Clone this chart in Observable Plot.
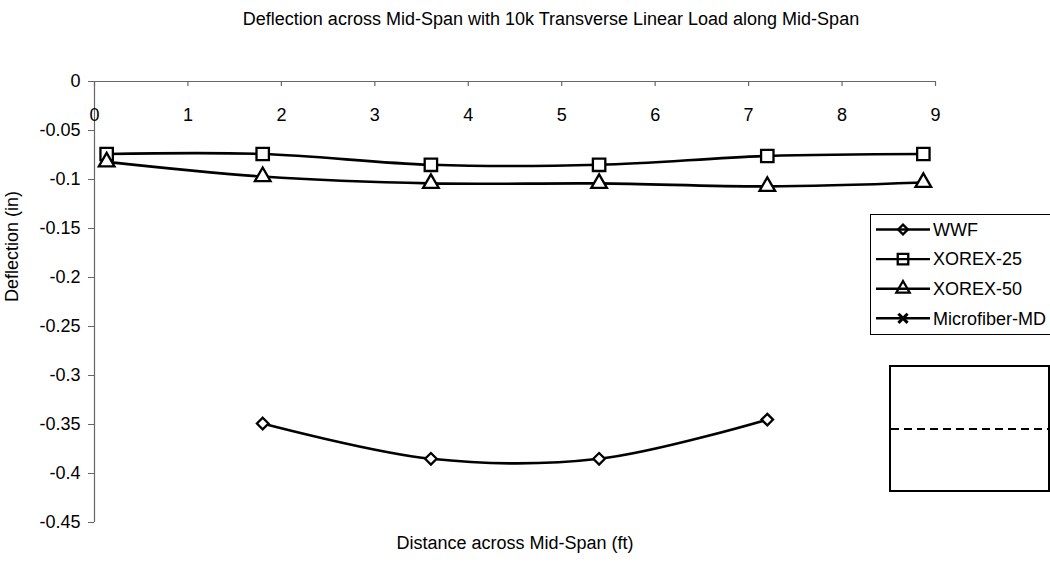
<!DOCTYPE html>
<html>
<head>
<meta charset="utf-8">
<script src="https://cdn.jsdelivr.net/npm/d3@7"></script>
<script src="https://cdn.jsdelivr.net/npm/@observablehq/plot@0.6"></script>
<style>
  body { margin: 0; background: #fff; font-family: "Liberation Sans", Arial, sans-serif; }
  #wrap { position: relative; width: 1050px; height: 570px; overflow: hidden; background: #fff; }
  #title { position: absolute; left: 0; top: 0; width: 1102px; height: 40px; line-height: 38px;
           text-align: center; font-size: 18px; color: #000; }
  #chart { position: absolute; left: 0; top: 40px; }
  #overlay { position: absolute; left: 0; top: 0; pointer-events: none; }
</style>
</head>
<body>
<div id="wrap">
  <div id="title"></div>
  <div id="chart"></div>
  <svg id="overlay" width="1050" height="570"></svg>
</div>
<script>
// ---- data ----
const titleText = "Deflection across Mid-Span with 10k Transverse Linear Load along Mid-Span";
const xLabel = "Distance across Mid-Span (ft)";
const yLabel = "Deflection (in)";
const seriesNames = ["WWF", "XOREX-25", "XOREX-50", "Microfiber-MD"];
const seriesSymbols = ["diamond2", "square", "triangle", "times"];

const positions = [0.13, 1.8, 3.6, 5.4, 7.2, 8.87];
const wwfX = [1.8, 3.6, 5.4, 7.2];
const wwfY = [-0.349, -0.385, -0.385, -0.345];
const xorex25Y = [-0.074, -0.074, -0.085, -0.085, -0.076, -0.074];
const xorex50Y = [-0.082, -0.097, -0.104, -0.104, -0.107, -0.103];
const microfiberX = [];
const microfiberY = [];

const xTicks = [0, 1, 2, 3, 4, 5, 6, 7, 8, 9];
const yTicks = [0, -0.05, -0.1, -0.15, -0.2, -0.25, -0.3, -0.35, -0.4, -0.45];

// ---- build tables ----
const toRows = (xs, ys, name) => xs.map((x, i) => ({x, y: ys[i], name}));
const series = [
  toRows(wwfX, wwfY, seriesNames[0]),
  toRows(positions, xorex25Y, seriesNames[1]),
  toRows(positions, xorex50Y, seriesNames[2]),
  toRows(microfiberX, microfiberY, seriesNames[3])
];
const symbolR = {diamond2: 5.2, square: 7, triangle: 5.8, times: 5};

document.getElementById("title").textContent = titleText;

const FS = 18;
const axisColor = "#666";
const W = 1050, H = 530, mT = 41, mB = 48, mL = 94, mR = 115;
const innerH = H - mT - mB;

const marks = [
  Plot.ruleX([0], {stroke: axisColor, strokeWidth: 1.2}),
  Plot.ruleY([0], {stroke: axisColor, strokeWidth: 1.2}),
  Plot.ruleX(xTicks, {x: d => d, insetBottom: innerH - 5, stroke: axisColor, strokeWidth: 1.2}),
  Plot.axisY(yTicks, {tickSize: 6, tickPadding: 8, tickFormat: d => String(d), label: null,
                      stroke: axisColor, fill: "#000", fontSize: FS}),
  Plot.text(xTicks, {x: d => d, frameAnchor: "top", dy: 27, text: d => String(d), fontSize: FS, fill: "#000"}),
  Plot.text([yLabel], {frameAnchor: "left", dx: -82, rotate: -90, text: d => d, fontSize: FS, fill: "#000"}),
  Plot.text([xLabel], {frameAnchor: "bottom", dy: 26, text: d => d, fontSize: FS, fill: "#000"})
];
series.forEach((rows, i) => {
  if (!rows.length) return;
  marks.push(Plot.line(rows, {x: "x", y: "y", curve: "catmull-rom", stroke: "#000", strokeWidth: 2.6}));
  marks.push(Plot.dot(rows, {x: "x", y: "y", symbol: () => seriesSymbols[i], r: symbolR[seriesSymbols[i]],
                             stroke: "#000", strokeWidth: 2.3, fill: "#fff"}));
});

const chart = Plot.plot({
  width: W, height: H,
  marginTop: mT, marginBottom: mB, marginLeft: mL, marginRight: mR,
  style: {fontFamily: "'Liberation Sans', Arial, sans-serif", fontSize: FS + "px", color: "#000", background: "transparent"},
  x: {domain: [0, 9], axis: null},
  y: {domain: [-0.45, 0]},
  symbol: {type: "identity"},
  marks
});
document.getElementById("chart").appendChild(chart);

// ---- legend & side box ----
const svg = d3.select("#overlay");
const lg = svg.append("g");
lg.append("rect").attr("x", 870.5).attr("y", 214.5).attr("width", 190).attr("height", 120)
  .attr("fill", "#fff").attr("stroke", "#000").attr("stroke-width", 1);
const symMap = {diamond2: d3.symbolDiamond2, square: d3.symbolSquare, triangle: d3.symbolTriangle, times: d3.symbolTimes};
seriesNames.forEach((name, i) => {
  const cy = 229.5 + i * 29.6;
  lg.append("line").attr("x1", 876).attr("x2", 930).attr("y1", cy).attr("y2", cy)
    .attr("stroke", "#000").attr("stroke-width", 2.4);
  const s = seriesSymbols[i];
  const r = symbolR[s] * 0.85;
  lg.append("path").attr("transform", `translate(903,${cy})`)
    .attr("d", d3.symbol(symMap[s], Math.PI * r * r)())
    .attr("fill", "none").attr("stroke", "#000").attr("stroke-width", s === "times" ? 3 : 2.3);
  lg.append("text").attr("x", 933).attr("y", cy).attr("dy", "0.35em")
    .attr("font-size", FS).attr("font-family", "'Liberation Sans', Arial, sans-serif")
    .attr("fill", "#000").text(name);
});
const bx = svg.append("g");
bx.append("rect").attr("x", 890).attr("y", 366).attr("width", 159).attr("height", 125)
  .attr("fill", "none").attr("stroke", "#000").attr("stroke-width", 2);
bx.append("line").attr("x1", 891).attr("x2", 1048).attr("y1", 429).attr("y2", 429)
  .attr("stroke", "#000").attr("stroke-width", 2).attr("stroke-dasharray", "8,5");
</script>
</body>
</html>
